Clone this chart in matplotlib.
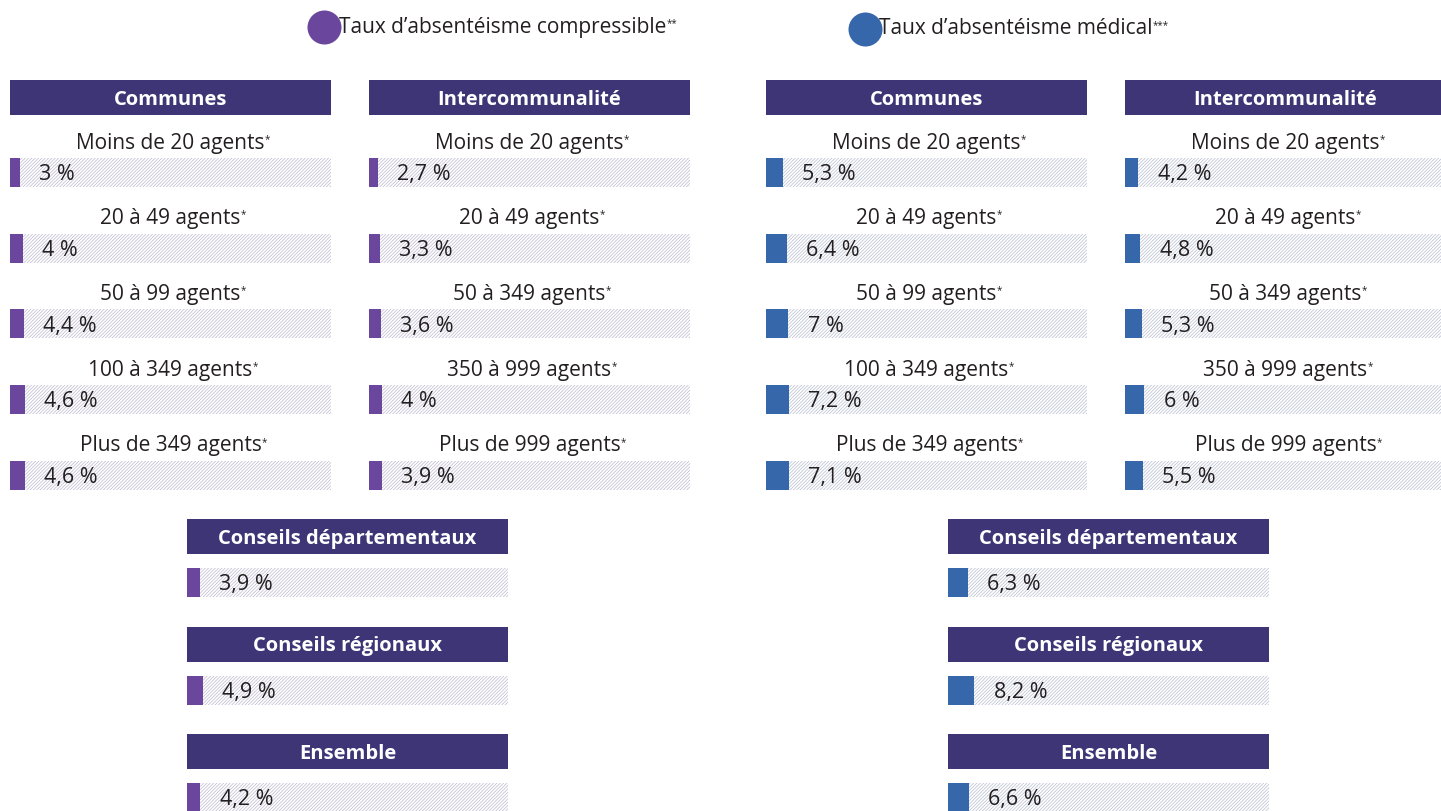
import matplotlib.pyplot as plt
import matplotlib as mpl

W, H = 1441, 812

# data
comm_labels = ["Moins de 20 agents", "20 à 49 agents", "50 à 99 agents",
               "100 à 349 agents", "Plus de 349 agents"]
inter_labels = ["Moins de 20 agents", "20 à 49 agents", "50 à 349 agents",
                "350 à 999 agents", "Plus de 999 agents"]
compr_comm = [3.0, 4.0, 4.4, 4.6, 4.6]
compr_inter = [2.7, 3.3, 3.6, 4.0, 3.9]
compr_other = [3.9, 4.9, 4.2]
med_comm = [5.3, 6.4, 7.0, 7.2, 7.1]
med_inter = [4.2, 4.8, 5.3, 6.0, 5.5]
med_other = [6.3, 8.2, 6.6]
other_labels = ["Conseils départementaux", "Conseils régionaux", "Ensemble"]

PURPLE = "#6a479d"
BLUE = "#3767ab"
HEAD = "#3d3576"
TXT = "#231f20"

mpl.rcParams["font.family"] = ["Open Sans", "DejaVu Sans"]
mpl.rcParams["hatch.linewidth"] = 0.5

fig = plt.figure(figsize=(W / 100, H / 100), dpi=100)
fig.patch.set_facecolor("white")


def px_axes(x, y, w, h):
    return fig.add_axes([x / W, 1 - (y + h) / H, w / W, h / H])


def fmt(v):
    s = f"{v:.1f}".replace(".", ",")
    if s.endswith(",0"):
        s = s[:-2]
    return s + " %"


def header(x, y, text, w=321, h=35):
    ax = px_axes(x, y, w, h)
    ax.set_facecolor(HEAD)
    ax.set_xticks([])
    ax.set_yticks([])
    for s in ax.spines.values():
        s.set_visible(False)
    ax.text(0.5, 0.46, text, ha="center", va="center", color="white",
            fontsize=14.5, fontweight="bold", transform=ax.transAxes)


def track(x, y, value, color, hatch_col, w=321, h=29):
    ax = px_axes(x, y, w, h)
    ax.set_xlim(0, 100 * w / 321)
    ax.set_ylim(0, 1)
    ax.barh(0.5, 100, height=1, facecolor="white", edgecolor=hatch_col,
            hatch="//////////", linewidth=0)
    ax.barh(0.5, value, height=1, color=color, linewidth=0)
    ax.text(value + 6, 0.27, fmt(value), ha="left", va="baseline",
            fontsize=15.5, color=TXT)
    ax.axis("off")


labs = []


def col(x, labels, values, color, hatch_col, title, w=321):
    header(x, 81, title, w=w)
    for i, (lab, v) in enumerate(zip(labels, values)):
        cy = 143 + i * 75.7
        t = fig.text((x + 160.5) / W, 1 - cy / H, lab, ha="center",
                     va="center", fontsize=15, color=TXT)
        labs.append(t)
        track(x, 159 + i * 75.7, v, color, hatch_col, w=w)


col(10, comm_labels, compr_comm, PURPLE, "#bdb9d0", "Communes")
col(369, inter_labels, compr_inter, PURPLE, "#bdb9d0", "Intercommunalité")
col(766, comm_labels, med_comm, BLUE, "#b7bed0", "Communes")
col(1125, inter_labels, med_inter, BLUE, "#b7bed0", "Intercommunalité")

for j, (lab, v1, v2) in enumerate(zip(other_labels, compr_other, med_other)):
    y0 = 520 + j * 107.5
    header(187, y0, lab)
    track(187, y0 + 49, v1, PURPLE, "#bdb9d0")
    header(948, y0, lab)
    track(948, y0 + 49, v2, BLUE, "#b7bed0")

# superscript asterisks after row labels
for t in labs:
    fig.texts.append(mpl.text.Annotation("*", xy=(1, 1), xycoords=t,
                                         xytext=(0, -1), textcoords="offset points",
                                         ha="left", va="top", fontsize=7,
                                         color=TXT))
    fig.texts[-1].set_figure(fig)

# legend
lg = px_axes(0, 0, W, 60)
lg.set_xlim(0, W)
lg.set_ylim(60, 0)
lg.axis("off")
lg.scatter([324], [28], s=600, color=PURPLE, zorder=3, linewidths=0)
lg.scatter([865], [30], s=600, color=BLUE, zorder=3, linewidths=0)
t1 = lg.text(339, 27, "Taux d\u2019absentéisme compressible", ha="left",
             va="center", fontsize=15, color=TXT)
t2 = lg.text(879, 29, "Taux d\u2019absentéisme médical", ha="left",
             va="center", fontsize=15, color=TXT)
lg.annotate("**", xy=(1, 1), xycoords=t1, xytext=(0, -1),
            textcoords="offset points", ha="left", va="top", fontsize=7,
            color=TXT)
lg.annotate("***", xy=(1, 1), xycoords=t2, xytext=(0, -1),
            textcoords="offset points", ha="left", va="top", fontsize=7,
            color=TXT)

fig.savefig("out.png", dpi=100)
